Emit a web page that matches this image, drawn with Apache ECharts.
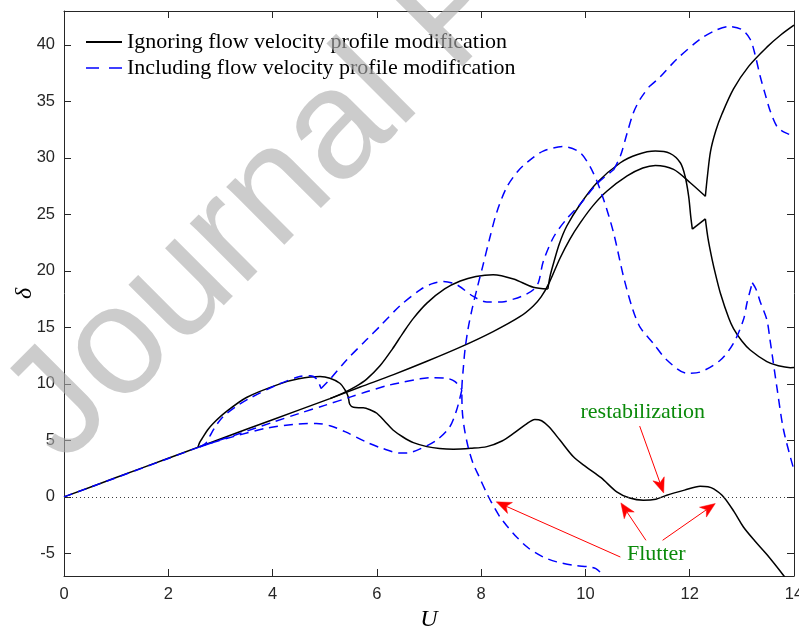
<!DOCTYPE html>
<html>
<head>
<meta charset="utf-8">
<script src="https://cdn.jsdelivr.net/npm/echarts@6/dist/echarts.min.js"></script>
<style>
  html, body { margin: 0; padding: 0; background: #ffffff; }
  #chart { width: 799px; height: 632px; }
</style>
</head>
<body>
<div id="chart"></div>
<script>
// Axis ticks
const U_TICKS = [0, 2, 4, 6, 8, 10, 12, 14];
const DELTA_TICKS = [-5, 0, 5, 10, 15, 20, 25, 30, 35, 40];

const IGNORING = 'Ignoring flow velocity profile modification';
const INCLUDING = 'Including flow velocity profile modification';

// Branches of delta(U) without the velocity profile modification, as [U, delta]
const ignoringMainBranch = [
  [0, 0], [1, 1.71], [2, 3.42], [2.6, 4.45], [3.5, 5.98], [4.5, 7.68], [5.1, 8.7],
  [5.68, 9.72], [6.32, 10.82], [6.96, 12.0], [7.6, 13.25], [8.23, 14.63], [8.75, 15.97],
  [9.0, 16.9], [9.15, 17.7], [9.3, 18.9], [9.51, 21.1], [9.7, 22.8], [9.9, 24.25],
  [10.15, 25.8], [10.41, 27.05], [10.8, 28.4], [11.1, 29.1], [11.34, 29.33],
  [11.69, 28.98], [12.01, 27.8], [12.3, 26.6]
];
const ignoringRisingBranch = [
  [12.3, 26.6], [12.34, 28.4], [12.4, 30.6], [12.5, 32.4], [12.62, 33.9], [12.84, 36.1],
  [13.13, 38.1], [13.48, 39.8], [13.75, 40.9], [14, 41.75]
];
const ignoringHumpBranch = [
  [5.1, 8.7], [5.35, 9.18], [5.6, 9.78], [5.8, 10.4], [6.06, 11.6], [6.3, 13.1],
  [6.5, 14.5], [6.7, 15.8], [6.96, 17.15], [7.3, 18.4], [7.6, 19.1], [7.9, 19.5],
  [8.23, 19.66], [8.62, 19.28], [9.0, 18.55], [9.28, 18.4]
];
const ignoringUpperArch = [
  [9.28, 18.4], [9.32, 19.5], [9.39, 20.7], [9.5, 22.4], [9.64, 23.95], [9.9, 25.9],
  [10.22, 27.8], [10.67, 29.57], [11.0, 30.3], [11.34, 30.6], [11.62, 30.4],
  [11.82, 29.57], [11.91, 28.4], [11.98, 26.6], [12.02, 24.8], [12.05, 23.7]
];
const ignoringNotch = [[12.05, 23.7], [12.3, 24.6]];
const ignoringFallingBranch = [
  [12.3, 24.6], [12.35, 22.9], [12.43, 21.0], [12.5, 19.6], [12.59, 18.0], [12.75, 15.8],
  [12.84, 14.9], [13.0, 13.8], [13.16, 13.0], [13.48, 11.97], [13.7, 11.6], [13.93, 11.44],
  [14, 11.45]
];
const ignoringLoopBranch = [
  [2.57, 4.42], [2.6, 4.8], [2.64, 5.1], [2.75, 5.9], [2.86, 6.5], [3.1, 7.5], [3.5, 8.8],
  [4.14, 10.0], [4.5, 10.45], [4.91, 10.65], [5.1, 10.5], [5.29, 10.06], [5.39, 9.46],
  [5.45, 8.87], [5.48, 8.2], [5.55, 7.93], [5.65, 7.9], [5.74, 7.9], [5.9, 7.65],
  [6.0, 7.4], [6.15, 6.7], [6.31, 5.92], [6.5, 5.3], [6.7, 4.8], [6.96, 4.45],
  [7.2, 4.28], [7.47, 4.22], [7.8, 4.3], [8.11, 4.45], [8.4, 4.95], [8.62, 5.62],
  [8.85, 6.4], [9.03, 6.86], [9.16, 6.74], [9.3, 6.2], [9.51, 5.03], [9.77, 3.55],
  [10.0, 2.7], [10.3, 1.7], [10.6, 0.45], [10.85, -0.1], [11.11, -0.29], [11.35, -0.2],
  [11.56, 0.15], [11.9, 0.6], [12.2, 0.95], [12.35, 0.9], [12.46, 0.7], [12.65, 0.0],
  [12.85, -1.3], [13.03, -2.66], [13.25, -3.9], [13.48, -5.1], [13.8, -6.95], [13.85, -7.3]
];

// Branches of delta(U) with the velocity profile modification, as [U, delta]
const includingBaseBranch = [
  [0, 0], [1, 1.7], [2, 3.4], [2.6, 4.42], [3.3, 5.5], [4.0, 6.6], [4.52, 7.4],
  [5.0, 8.1], [5.5, 8.85], [5.8, 9.3], [6.2, 9.85], [6.44, 10.1], [6.83, 10.45],
  [7.08, 10.55], [7.34, 10.5], [7.5, 10.2], [7.63, 9.46]
];
const includingReturnBranch = [
  [7.63, 9.46], [7.53, 7.69], [7.4, 6.21], [7.15, 5.03], [6.83, 4.25], [6.6, 3.9],
  [6.44, 3.88], [6.1, 4.3], [5.8, 4.85], [5.4, 5.75], [5.1, 6.3], [4.84, 6.5],
  [4.5, 6.45], [3.9, 6.1], [3.3, 5.4], [2.8, 4.73], [2.6, 4.42]
];
const includingLeftLoop = [
  [2.6, 4.42], [2.72, 4.75], [2.8, 5.4], [2.9, 6.2], [3.05, 7.1], [3.3, 8.0],
  [3.56, 8.73], [4.08, 9.9], [4.52, 10.65], [4.72, 10.72], [4.84, 10.45], [4.93, 9.6]
];
const includingCrossingBranch = [
  [4.93, 9.6], [5.1, 10.4], [5.42, 12.12], [5.8, 13.9], [6.06, 15.1], [6.44, 16.9],
  [6.83, 18.33], [7.05, 18.85], [7.28, 19.07], [7.53, 18.78], [7.85, 17.74],
  [8.11, 17.25], [8.4, 17.25], [8.62, 17.5], [8.85, 17.9], [9.0, 18.33], [9.1, 19.0],
  [9.19, 20.8], [9.39, 23.0], [9.64, 24.6], [9.9, 25.9], [10.22, 27.7], [10.54, 28.95]
];
const includingSteepBranch = [
  [10.54, 28.95], [10.67, 30.16], [10.8, 32.2], [10.92, 34.0], [11.05, 35.2], [11.22, 36.3]
];
const includingTopArc = [
  [11.22, 36.3], [11.43, 37.15], [11.75, 38.73], [12.2, 40.5], [12.5, 41.3],
  [12.75, 41.63], [13.0, 41.35], [13.16, 40.5], [13.25, 39.2], [13.35, 37.25],
  [13.45, 35.6], [13.54, 34.2], [13.67, 32.8], [13.8, 32.3], [14, 31.93]
];
const includingFlutterBranch = [
  [10.28, -6.65], [10.2, -6.35], [10.09, -6.2], [9.77, -6.06], [9.45, -5.75],
  [9.19, -5.32], [8.9, -4.5], [8.68, -3.55], [8.5, -2.6], [8.36, -1.77], [8.2, -0.5],
  [8.11, 0.3], [7.95, 1.9], [7.85, 2.9], [7.75, 4.43], [7.68, 6.0], [7.64, 7.5],
  [7.63, 9.46], [7.66, 11.5], [7.69, 13.0], [7.75, 14.9], [7.83, 16.7], [7.93, 18.6],
  [8.03, 20.4], [8.17, 23.0], [8.3, 25.2], [8.49, 27.4], [8.7, 28.8], [8.88, 29.6],
  [9.19, 30.6], [9.58, 31.0], [9.9, 30.46], [10.15, 28.68], [10.35, 26.3],
  [10.54, 23.36], [10.73, 19.5], [10.9, 16.7], [11.05, 15.0], [11.3, 13.6],
  [11.56, 12.12], [11.95, 10.94], [12.2, 11.05], [12.59, 12.12], [12.84, 13.6],
  [13.03, 15.67], [13.1, 17.2], [13.2, 18.95]
];
const includingSpikeTail = [
  [13.2, 18.95], [13.27, 18.4], [13.35, 17.3], [13.48, 15.67], [13.54, 13.9],
  [13.67, 9.76], [13.8, 5.92], [14, 2.37]
];

// Annotations: arrows as [tail, head] in [U, delta]
const restabilizationArrows = [[[11.04, 6.27], [11.50, 0.35]]];
const flutterArrows = [
  [[10.67, -5.32], [8.29, -0.44]],
  [[11.16, -3.84], [10.68, -0.53]],
  [[11.48, -3.84], [12.49, -0.59]]
];
const NOTE_LABELS = ['restabilization', 'Flutter'];
const NOTE_ANCHORS = [[11.1, 7.46], [11.36, -5.1]];

const BLACK = '#000000';
const BLUE = '#0000ff';
const RED = '#ff0000';
const GREEN = '#0a8a0a';
const AXIS_COLOR = '#262626';
const SERIF = '"Liberation Serif", "Times New Roman", serif';
const SANS = '"Liberation Sans", Arial, Helvetica, sans-serif';
const HEAD_LENGTH = 15;
const HEAD_HALF_WIDTH = 6;

function branch(name, data, color, dashed) {
  return {
    type: 'line',
    name: name,
    data: data,
    symbol: 'none',
    showSymbol: false,
    smooth: 0.3,
    clip: true,
    silent: true,
    animation: false,
    z: dashed ? 4 : 3,
    itemStyle: { color: color },
    lineStyle: { color: color, width: 1.5, type: dashed ? [9, 6] : 'solid' },
    emphasis: { disabled: true }
  };
}

function frameAxis(position, min, max, ticks, showLabels, isX) {
  return {
    type: 'value',
    position: position,
    min: min,
    max: max,
    axisLine: { show: true, onZero: false, lineStyle: { color: AXIS_COLOR, width: 1 } },
    axisTick: { show: true, inside: true, length: 7, customValues: ticks,
                lineStyle: { color: AXIS_COLOR, width: 1 } },
    axisLabel: { show: showLabels, customValues: ticks, color: AXIS_COLOR,
                 fontFamily: SANS, fontSize: 16.5, margin: isX ? 10 : 9 },
    splitLine: { show: false }
  };
}

const xBottom = Object.assign(frameAxis('bottom', 0, 14, U_TICKS, true, true), {
  name: 'U', nameLocation: 'middle', nameGap: 32, nameMoveOverlap: false,
  nameTextStyle: { fontFamily: SERIF, fontStyle: 'italic', fontSize: 24, color: BLACK }
});
const xTop = frameAxis('top', 0, 14, U_TICKS, false, true);
const yLeft = Object.assign(frameAxis('left', -7, 43, DELTA_TICKS, true, false), {
  name: 'δ', nameLocation: 'middle', nameGap: 27, nameRotate: 90, nameMoveOverlap: false,
  nameTextStyle: { fontFamily: SERIF, fontStyle: 'italic', fontSize: 24, color: BLACK }
});
const yRight = frameAxis('right', -7, 43, DELTA_TICKS, false, false);

const series = [
  branch(IGNORING, ignoringMainBranch, BLACK, false),
  branch(IGNORING, ignoringRisingBranch, BLACK, false),
  branch(IGNORING, ignoringHumpBranch, BLACK, false),
  branch(IGNORING, ignoringUpperArch, BLACK, false),
  branch(IGNORING, ignoringNotch, BLACK, false),
  branch(IGNORING, ignoringFallingBranch, BLACK, false),
  branch(IGNORING, ignoringLoopBranch, BLACK, false),
  branch(INCLUDING, includingBaseBranch, BLUE, true),
  branch(INCLUDING, includingReturnBranch, BLUE, true),
  branch(INCLUDING, includingLeftLoop, BLUE, true),
  branch(INCLUDING, includingCrossingBranch, BLUE, true),
  branch(INCLUDING, includingSteepBranch, BLUE, true),
  branch(INCLUDING, includingTopArc, BLUE, true),
  branch(INCLUDING, includingFlutterBranch, BLUE, true),
  branch(INCLUDING, includingSpikeTail, BLUE, true),
  {
    // zero reference line and the green notes
    id: 'notes', type: 'line', data: [], silent: true, z: 1,
    markLine: {
      silent: true, symbol: ['none', 'none'], animation: false,
      label: { show: false },
      lineStyle: { color: '#3a3a3a', width: 1, type: [1, 3] },
      emphasis: { disabled: true },
      data: [{ yAxis: 0 }]
    },
    markPoint: {
      silent: true, symbol: 'rect', symbolSize: 1, animation: false,
      itemStyle: { color: 'rgba(0,0,0,0)' },
      label: { show: true, position: 'inside', formatter: '{b}', color: GREEN,
               fontFamily: SERIF, fontSize: 22 },
      data: NOTE_LABELS.map((t, i) => ({ name: t, coord: NOTE_ANCHORS[i] }))
    }
  }
];

const WM_SIZE = 155;
const watermark = {
  type: 'text', id: 'watermark', x: 88, y: 490, rotation: 45 * Math.PI / 180, z: 100, silent: true,
  style: {
    text: 'Journal Pre-proof',
    font: WM_SIZE + 'px "Liberation Sans", Arial, sans-serif',
    fill: 'rgba(172,172,172,0.62)',
    verticalAlign: 'bottom'
  }
};

const option = {
  backgroundColor: '#ffffff',
  animation: false,
  grid: { left: 64, right: 5, top: 11, bottom: 56, containLabel: false, outerBoundsMode: 'none' },
  xAxis: [xBottom, xTop],
  yAxis: [yLeft, yRight],
  legend: {
    data: [
      { name: IGNORING },
      { name: INCLUDING, lineStyle: { type: [13, 10], width: 1.5 } }
    ],
    orient: 'vertical', left: 85, top: 31, padding: 0, itemGap: 4,
    itemWidth: 36, itemHeight: 14, selectedMode: false,
    itemStyle: { opacity: 0, borderWidth: 0 },
    textStyle: { fontFamily: SERIF, fontSize: 22, color: BLACK, lineHeight: 22 }
  },
  graphic: [watermark],
  series: series
};

const chart = echarts.init(document.getElementById('chart'), null, { renderer: 'canvas' });
chart.setOption(option);

// Red arrows: shafts and concave heads placed through the grid's own scales.
const toPx = p => chart.convertToPixel({ gridIndex: 0 }, p);
const arrowGraphics = [];
restabilizationArrows.concat(flutterArrows).forEach(([tail, head], i) => {
  const a = toPx(tail), b = toPx(head);
  const dx = b[0] - a[0], dy = b[1] - a[1], len = Math.hypot(dx, dy);
  const ux = dx / len, uy = dy / len, nx = -uy, ny = ux;
  const base = [b[0] - ux * HEAD_LENGTH, b[1] - uy * HEAD_LENGTH];
  const notch = [b[0] - ux * HEAD_LENGTH * 0.72, b[1] - uy * HEAD_LENGTH * 0.72];
  arrowGraphics.push({
    type: 'line', id: 'shaft' + i, z: 50, silent: true,
    shape: { x1: a[0], y1: a[1], x2: notch[0], y2: notch[1] },
    style: { stroke: RED, lineWidth: 1 }
  });
  arrowGraphics.push({
    type: 'polygon', id: 'head' + i, z: 50, silent: true,
    shape: { points: [
      b,
      [base[0] + nx * HEAD_HALF_WIDTH, base[1] + ny * HEAD_HALF_WIDTH],
      notch,
      [base[0] - nx * HEAD_HALF_WIDTH, base[1] - ny * HEAD_HALF_WIDTH]
    ] },
    style: { fill: RED, stroke: RED, lineWidth: 0.5 }
  });
});
chart.setOption({ graphic: arrowGraphics });
</script>
</body>
</html>
